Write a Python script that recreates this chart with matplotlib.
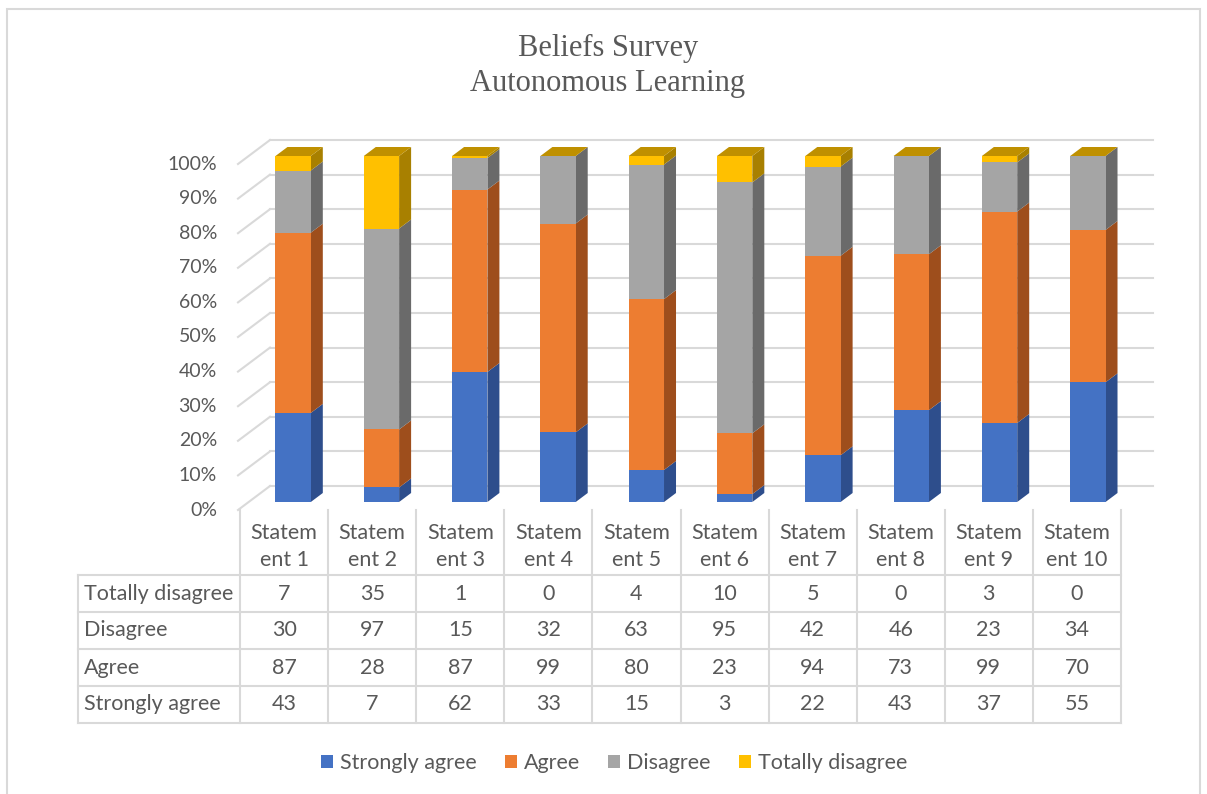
import numpy as np
import matplotlib.pyplot as plt
from matplotlib.patches import Polygon, Rectangle
from matplotlib.lines import Line2D

plt.rcParams['font.family'] = ['Lato', 'DejaVu Sans']

statements = ['Statement %d' % i for i in range(1, 11)]
header_labels = ['Statem\nent %d' % i for i in range(1, 11)]
series_names = ['Strongly agree', 'Agree', 'Disagree', 'Totally disagree']
strongly_agree = [43, 7, 62, 33, 15, 3, 22, 43, 37, 55]
agree = [87, 28, 87, 99, 80, 23, 94, 73, 99, 70]
disagree = [30, 97, 15, 32, 63, 95, 42, 46, 23, 34]
totally_disagree = [7, 35, 1, 0, 4, 10, 5, 0, 3, 0]
yticks = list(range(0, 101, 10))

face_colors = ['#4472C4', '#ED7D31', '#A5A5A5', '#FFC000']
side_colors = ['#2E4E8C', '#9E4E1C', '#6A6A6A', '#A88000']
top_color = '#BF9000'
text_color = '#595959'
grid_color = '#D9D9D9'

W, H = 1207, 794
fig = plt.figure(figsize=(W / 100, H / 100), dpi=100)


def fx(p):
    return p / W


def fy(p):
    return 1 - p / H


# bar front plane in pixels
x0, x1 = 249, 1132
y0, y1 = 502, 156
ax = fig.add_axes([fx(x0), fy(y0), (x1 - x0) / W, (y0 - y1) / H])
ax.set_xlim(-0.5, 9.5)
ax.set_ylim(0, 100)
ax.axis('off')

px = 10 / (x1 - x0)    # data units per pixel
py = 100 / (y0 - y1)

# depth offsets (pixels -> data)
bar_dx, bar_dy = 12 * px, 9 * py
back_dx, back_dy = 21 * px, 16 * py
front_dx, front_dy = -11 * px, -8 * py

counts = np.array([strongly_agree, agree, disagree, totally_disagree], float)
pct = counts / counts.sum(axis=0) * 100
bottoms = np.vstack([np.zeros(len(statements)), np.cumsum(pct, axis=0)[:-1]])
xs = np.arange(len(statements))
bw = 0.4

# back wall gridlines + left wall diagonals
for v in yticks:
    ax.plot([-0.5 + back_dx, 9.5 + back_dx], [v + back_dy] * 2, color=grid_color,
            lw=1.5, zorder=1, clip_on=False)
    ax.plot([-0.5 + front_dx, -0.5 + back_dx], [v + front_dy, v + back_dy],
            color=grid_color, lw=1.5, zorder=1, clip_on=False)
    ax.text(-0.5 - 32 * px, v + front_dy, '%d%%' % v, ha='right', va='center',
            fontsize=14, color=text_color)

# bars: front faces, side faces, top face
for s in range(len(series_names)):
    ax.bar(xs, pct[s], bw, bottom=bottoms[s], color=face_colors[s], lw=0,
           zorder=3, label=series_names[s])
    for i in xs:
        b, t = bottoms[s][i], bottoms[s][i] + pct[s][i]
        xr = i + bw / 2
        ax.add_patch(Polygon([(xr, b), (xr + bar_dx, b + bar_dy),
                              (xr + bar_dx, t + bar_dy), (xr, t)],
                             closed=True, fc=side_colors[s], lw=0, zorder=2,
                             clip_on=False))
for i in xs:
    ax.add_patch(Polygon([(i - bw / 2, 100), (i + bw / 2, 100),
                          (i + bw / 2 + bar_dx, 100 + bar_dy),
                          (i - bw / 2 + bar_dx, 100 + bar_dy)],
                         closed=True, fc=top_color, lw=0, zorder=3, clip_on=False))

# data table (drawn by hand in figure pixels)
tab_left, col0, col_w = 78, 240, 88.1
head_top, row_tops = 510, [575, 612, 649, 686, 723]
ncols = len(statements)
col_edges = [col0 + col_w * j for j in range(ncols + 1)]
tfs = 15.5


def hline(y, xa, xb):
    fig.add_artist(Line2D([fx(xa), fx(xb)], [fy(y), fy(y)], color=grid_color, lw=1.5))


def vline(x, ya, yb):
    fig.add_artist(Line2D([fx(x), fx(x)], [fy(ya), fy(yb)], color=grid_color, lw=1.5))


for y in row_tops:
    hline(y, tab_left, col_edges[-1])
vline(tab_left, row_tops[0], row_tops[-1])
for x in col_edges:
    vline(x, head_top, row_tops[-1])

for j, lab in enumerate(header_labels):
    cx = (col_edges[j] + col_edges[j + 1]) / 2
    first, second = lab.split('\n')
    fig.text(fx(cx), fy(533), first, ha='center', va='center', fontsize=tfs, color=text_color)
    fig.text(fx(cx), fy(560), second, ha='center', va='center', fontsize=tfs, color=text_color)

table_rows = [('Totally disagree', totally_disagree), ('Disagree', disagree),
              ('Agree', agree), ('Strongly agree', strongly_agree)]
for r, (name, vals) in enumerate(table_rows):
    cy = (row_tops[r] + row_tops[r + 1]) / 2
    fig.text(fx(tab_left + 6), fy(cy), name, ha='left', va='center', fontsize=tfs,
             color=text_color)
    for j, v in enumerate(vals):
        cx = (col_edges[j] + col_edges[j + 1]) / 2
        fig.text(fx(cx), fy(cy), str(v), ha='center', va='center', fontsize=tfs,
                 color=text_color)

# title
fig.text(fx(608), fy(48), 'Beliefs Survey', ha='center', va='center',
         fontsize=22, family='Liberation Serif', color=text_color)
fig.text(fx(608), fy(84), 'Autonomous Learning', ha='center', va='center',
         fontsize=22, family='Liberation Serif', color=text_color)

# legend
handles = [Rectangle((0, 0), 1, 1, fc=c, lw=0) for c in face_colors]
fig.legend(handles, series_names, loc='center', bbox_to_anchor=(fx(614), fy(763)),
           ncol=4, frameon=False, fontsize=tfs, handlelength=0.56, handleheight=0.56,
           handletextpad=0.33, columnspacing=1.3, labelcolor=text_color)

# chart border
fig.add_artist(Rectangle((fx(7), -0.05), (1200 - 7) / W, fy(9) + 0.05,
                         transform=fig.transFigure, fill=False, ec=grid_color, lw=1.5))

fig.savefig('out.png', dpi=100)
